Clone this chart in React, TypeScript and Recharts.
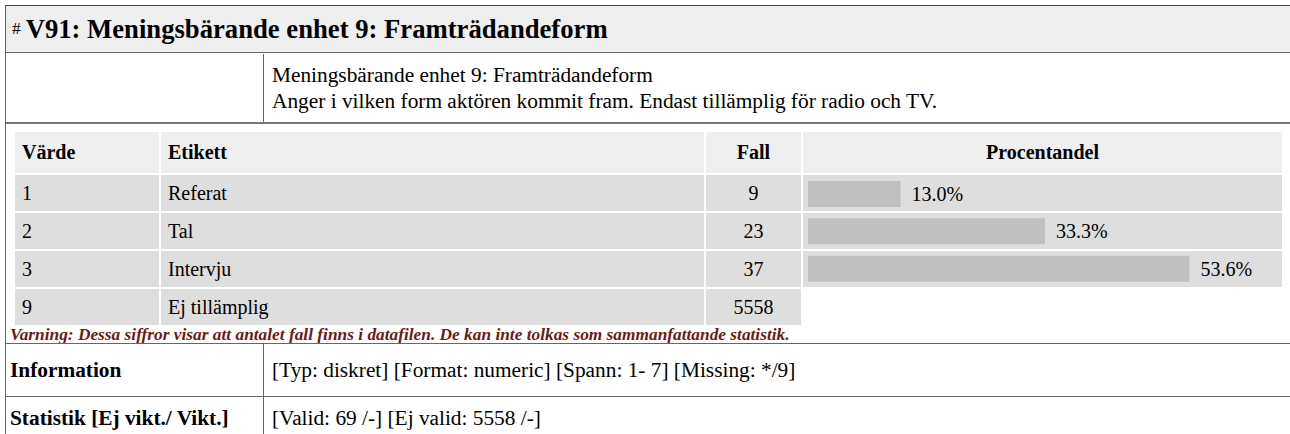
import { Bar, BarChart, LabelList, XAxis, YAxis } from "recharts";

// frequency table for V91
const values = ["1", "2", "3", "9"];
const labels = ["Referat", "Tal", "Intervju", "Ej tillämplig"];
const cases = [9, 23, 37, 5558];
const percents = [13.0, 33.3, 53.6];

const FONT = '"Liberation Serif", "Times New Roman", Times, serif';
const LINE = "#666";
const HEAD_BG = "#efefef";
const ROW_BG = "#dedede";
const BIG = 21.33;

const cols = [
	{ x: 15, w: 144 },
	{ x: 161, w: 543 },
	{ x: 706, w: 95 },
	{ x: 803, w: 479 },
];
const HEAD_TOP = 132;
const HEAD_H = 41;
const ROW_TOP = 175;
const ROW_H = 36;
const ROW_GAP = 2;

const barData = percents.map((p, i) => ({ value: values[i], pct: p }));

function Cell({
	x,
	y,
	w,
	h,
	bg,
	children,
	align = "left",
	bold = false,
	size,
}: {
	x: number;
	y: number;
	w: number;
	h: number;
	bg?: string;
	children?: React.ReactNode;
	align?: "left" | "center";
	bold?: boolean;
	size?: number;
}) {
	return (
		<div
			style={{
				position: "absolute",
				left: x,
				top: y,
				width: w,
				height: h,
				background: bg,
				display: "flex",
				alignItems: "center",
				justifyContent: align === "center" ? "center" : "flex-start",
				paddingLeft: align === "center" ? 0 : 7,
				boxSizing: "border-box",
				fontWeight: bold ? "bold" : "normal",
				fontSize: size,
				whiteSpace: "nowrap",
			}}
		>
			{children}
		</div>
	);
}

export default function App() {
	const heads = ["Värde", "Etikett", "Fall", "Procentandel"];
	return (
		<div
			style={{
				position: "absolute",
				left: 0,
				top: 0,
				width: 1290,
				height: 434,
				overflow: "hidden",
				background: "#fff",
				fontFamily: FONT,
				fontSize: 20,
				color: "#000",
			}}
		>
			{/* outer frame */}
			<div
				style={{
					position: "absolute",
					left: 5,
					top: 5,
					width: 1300,
					height: 440,
					borderLeft: `1px solid ${LINE}`,
					borderTop: `1px solid #444`,
				}}
			/>
			{/* title */}
			<div
				style={{
					position: "absolute",
					left: 6,
					top: 6,
					width: 1290,
					height: 47,
					background: HEAD_BG,
					borderBottom: `1px solid ${LINE}`,
					display: "flex",
					alignItems: "center",
					paddingLeft: 6,
					boxSizing: "border-box",
				}}
			>
				<span style={{ fontSize: 17.33, marginRight: 5 }}>#</span>
				<span style={{ fontSize: 26.67, fontWeight: "bold" }}>
					V91: Meningsbärande enhet 9: Framträdandeform
				</span>
			</div>
			{/* description row */}
			<div
				style={{
					position: "absolute",
					left: 263,
					top: 54,
					width: 1,
					height: 68,
					background: LINE,
				}}
			/>
			<div
				style={{
					position: "absolute",
					left: 272,
					top: 62,
					fontSize: BIG,
					lineHeight: "26px",
					whiteSpace: "nowrap",
				}}
			>
				<div>Meningsbärande enhet 9: Framträdandeform</div>
				<div>Anger i vilken form aktören kommit fram. Endast tillämplig för radio och TV.</div>
			</div>
			<div
				style={{
					position: "absolute",
					left: 6,
					top: 122,
					width: 1290,
					height: 2,
					background: "#777",
				}}
			/>
			{/* table header */}
			{heads.map((h, i) => (
				<Cell
					key={h}
					x={cols[i].x}
					y={HEAD_TOP}
					w={cols[i].w}
					h={HEAD_H}
					bg={HEAD_BG}
					bold
					align={i >= 2 ? "center" : "left"}
				>
					{h}
				</Cell>
			))}
			{/* table rows */}
			{values.map((v, r) => {
				const y = ROW_TOP + r * (ROW_H + ROW_GAP);
				return (
					<div key={v}>
						<Cell x={cols[0].x} y={y} w={cols[0].w} h={ROW_H} bg={ROW_BG}>
							{v}
						</Cell>
						<Cell x={cols[1].x} y={y} w={cols[1].w} h={ROW_H} bg={ROW_BG}>
							{labels[r]}
						</Cell>
						<Cell x={cols[2].x} y={y} w={cols[2].w} h={ROW_H} bg={ROW_BG} align="center">
							{cases[r]}
						</Cell>
						{r < percents.length && (
							<Cell x={cols[3].x} y={y} w={cols[3].w} h={ROW_H} bg={ROW_BG} />
						)}
					</div>
				);
			})}
			{/* percentage bars */}
			<div
				style={{
					position: "absolute",
					left: cols[3].x,
					top: ROW_TOP,
				}}
			>
				<BarChart
					width={cols[3].w}
					height={percents.length * (ROW_H + ROW_GAP) - ROW_GAP}
					data={barData}
					layout="vertical"
					margin={{ top: 0, right: 47, bottom: 0, left: 5 }}
				>
					<XAxis type="number" domain={[0, 60]} hide />
					<YAxis type="category" dataKey="value" hide />
					<Bar dataKey="pct" fill="#c0c0c0" barSize={26} isAnimationActive={false}>
						<LabelList
							dataKey="pct"
							position="right"
							offset={11}
							formatter={(v: number) => `${v.toFixed(1)}%`}
							style={{ fontFamily: FONT, fontSize: 20, fill: "#000" }}
						/>
					</Bar>
				</BarChart>
			</div>
			{/* warning */}
			<div
				style={{
					position: "absolute",
					left: 10,
					top: 325,
					fontSize: 17.33,
					fontWeight: "bold",
					fontStyle: "italic",
					color: "#6b1a1a",
					lineHeight: "19px",
					whiteSpace: "nowrap",
				}}
			>
				Varning: Dessa siffror visar att antalet fall finns i datafilen. De kan inte tolkas som
				sammanfattande statistik.
			</div>
			{/* info rows */}
			<div style={{ position: "absolute", left: 6, top: 343, width: 1290, height: 1, background: LINE }} />
			<div style={{ position: "absolute", left: 6, top: 396, width: 1290, height: 1, background: LINE }} />
			<div style={{ position: "absolute", left: 263, top: 344, width: 1, height: 100, background: LINE }} />
			<Cell x={3} y={344} w={258} h={52} bold size={BIG}>
				Information
			</Cell>
			<Cell x={265} y={344} w={1000} h={52} size={BIG}>
				[Typ: diskret] [Format: numeric] [Spann: 1- 7] [Missing: */9]
			</Cell>
			<Cell x={3} y={397} w={258} h={42} bold size={BIG}>
				Statistik [Ej vikt./ Vikt.]
			</Cell>
			<Cell x={265} y={397} w={1000} h={42} size={BIG}>
				[Valid: 69 /-] [Ej valid: 5558 /-]
			</Cell>
		</div>
	);
}
